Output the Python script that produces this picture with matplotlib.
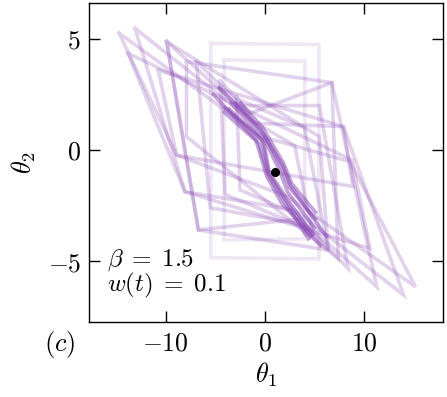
import matplotlib
matplotlib.use("Agg")
from matplotlib import pyplot as plt
from matplotlib.ticker import FuncFormatter

plt.rcParams['mathtext.fontset'] = 'cm'
plt.rcParams['font.family'] = 'serif'

# box-shaped early loops
rect_outer = [(-5.45, 4.8), (5.45, 4.75), (5.45, -4.9), (-5.45, -4.85)]
rect_inner = [(-4.1, 4.05), (4.05, 4.0), (4.0, -4.0), (-4.1, -4.05)]

# wide loops (upper-left tip, right corner, lower-right corner, left corner)
wide_loops = [
  [(-13.8, 4.35), (8.78, -0.45), (10.6, -4.43), (-8.06, -1.88)],
  [(-10.75, 3.6), (7.93, 1.05), (8.9, -1.65), (-8.9, -0.23)],
  [(-7.9, 3.98), (6.76, 3.03), (7.4, -4.9), (-7.9, 0.6)],
  [(-9.9, 4.88), (5.5, 0.6), (6.4, -4.5), (-6.7, -3.6)],
]

# loops running along the diagonal band
band_loops = [
  [(-14.7, 5.26), (-0.3, 0.6), (8.6, -0.53), (15.2, -6.16), (2.3, -2.1), (-8.9, -0.23)],
  [(-13.1, 5.48), (-1.0, 1.2), (7.93, 1.05), (14.0, -6.53), (3.0, -2.7), (-8.06, -1.88)],
  [(-9.9, 4.88), (-1.8, 1.6), (6.76, 3.03), (11.3, -6.16), (3.6, -3.1), (-6.7, -3.6)],
  [(-6.9, 3.98), (-2.4, 2.0), (5.5, 2.0), (8.4, -5.33), (4.2, -3.4), (-5.5, -2.6)],
  [(-4.5, 3.1), (-2.8, 2.3), (4.0, 1.0), (6.4, -4.5), (4.6, -3.6), (-4.0, -2.0)],
  [(-2.85, 2.4), (-1.2, 1.3), (3.0, 0.2), (4.9, -3.9), (3.3, -2.9), (-2.5, -1.8)],
]

# late iterates hugging the fixed point: passing left / right of it
left_paths = [
  [(-4.0, 1.9), (-0.1, 0.35), (0.45, -1.0), (2.1, -2.1), (4.8, -3.8)],
  [(-4.1, 1.7), (-0.6, 0.3), (0.3, -1.1), (1.8, -2.2), (4.4, -4.0)],
  [(-3.6, 1.85), (-0.3, 0.45), (0.4, -1.05), (2.0, -2.2), (4.6, -3.9)],
  [(-5.2, 2.5), (-0.9, 0.45), (0.2, -1.2), (1.7, -2.4), (5.6, -4.3)],
]
right_paths = [
  [(-3.4, 2.1), (0.05, 0.4), (1.5, -0.95), (2.3, -1.9), (5.0, -3.5)],
  [(-2.4, 2.1), (-0.2, 1.0), (1.9, -0.6), (2.7, -1.5), (5.1, -2.8)],
  [(-2.9, 2.1), (-0.1, 0.7), (1.7, -0.8), (2.5, -1.7), (5.1, -3.1)],
  [(-4.6, 2.8), (-0.4, 0.9), (1.8, -0.7), (2.6, -1.6), (6.2, -3.9)],
]

fixed_point = (1.0, -1.0)
beta = 1.5
w_t = 0.1

col = '#8646b3'
lw = 2.6


def drawPath(ax, pts, alpha, closed=True):
  xs = [p[0] for p in pts]
  ys = [p[1] for p in pts]
  if closed:
    xs.append(pts[0][0])
    ys.append(pts[0][1])
  ax.plot(xs, ys, color=col, lw=lw, alpha=alpha, solid_joinstyle='miter')


fig = plt.figure(figsize=(4.47, 3.97), dpi=100)
ax = fig.add_axes([0.1998, 0.1897, 0.7919, 0.8035])

drawPath(ax, rect_outer, 0.13)
drawPath(ax, rect_inner, 0.13)
for loop in wide_loops:
  drawPath(ax, loop, 0.24)
for loop in band_loops:
  drawPath(ax, loop, 0.24)
for p in left_paths + right_paths:
  drawPath(ax, p, 0.5, closed=False)

ax.plot(fixed_point[0], fixed_point[1], 'o', color='black', ms=5.5, zorder=5)

ax.set_xlim(-17.7, 18.0)
ax.set_ylim(-7.73, 6.63)
ax.set_xticks([-10, 0, 10])
ax.set_yticks([-5, 0, 5])
fmt = FuncFormatter(lambda v, p: '$%g$' % v)
ax.xaxis.set_major_formatter(fmt)
ax.yaxis.set_major_formatter(fmt)
ax.tick_params(direction='in', top=True, right=True, length=8, width=1.0,
               labelsize=18.5, pad=6)
for s in ax.spines.values():
  s.set_linewidth(1.0)

ax.set_xlabel(r'$\theta_1$', fontsize=19, labelpad=4)
ax.set_ylabel(r'$\theta_2$', fontsize=19, labelpad=7)

ax.text(0.05, 0.193, r'$\beta\;=\;%g$' % beta, transform=ax.transAxes, fontsize=18,
        va='center', ha='left')
ax.text(0.05, 0.115, r'$w(t)\;=\;%g$' % w_t, transform=ax.transAxes, fontsize=18,
        va='center', ha='left')
fig.text(60 / 447, 1 - 344 / 397, r'$(c)$', fontsize=19, ha='center', va='center')

fig.savefig('out.png', dpi=100)
